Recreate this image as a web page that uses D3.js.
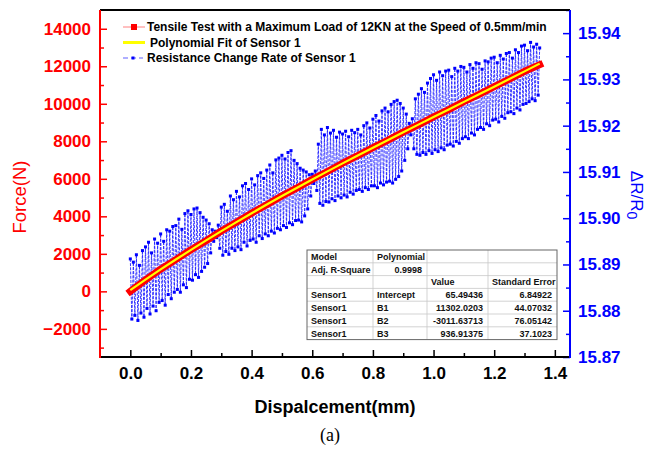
<!DOCTYPE html>
<html>
<head>
<meta charset="utf-8">
<script src="https://d3js.org/d3.v7.min.js"></script>
<style>
  body { margin: 0; background: #fff; }
  text { font-family: Arial, "Liberation Sans", sans-serif; }
</style>
</head>
<body>
<script>
// displacement step of the force / fit samples (mm)
var forceStep = 0.05
var forceN = [0, 610, 1180, 1690, 2220, 2700, 3220, 3680, 4170, 4620, 5090, 5520, 5970, 6390, 6830,
  7240, 7660, 8060, 8490, 8880, 9300, 9690, 10110, 10500, 10920, 11310, 11730, 12080]
var fitN = [65, 623, 1167, 1696, 2213, 2717, 3210, 3692, 4164, 4627, 5081, 5526, 5965, 6397, 6823,
  7243, 7659, 8072, 8481, 8888, 9293, 9697, 10101, 10505, 10910, 11317, 11727, 12140]

// resistance change rate, sampled every resStep mm
var resStep = 0.005
var resistance = [
  15.8912, 15.8782, 15.8905, 15.8790, 15.8921, 15.8779, 15.8898, 15.8795, 15.8930, 15.8786,
  15.8938, 15.8805, 15.8948, 15.8793, 15.8925, 15.8810, 15.8955, 15.8800, 15.8946, 15.8818,
  15.8966, 15.8822, 15.8950, 15.8812, 15.8975, 15.8835, 15.8972, 15.8826, 15.8982, 15.8840,
  15.8984, 15.8846, 15.8998, 15.8840, 15.8976, 15.8856, 15.9010, 15.8850, 15.9016, 15.8868,
  15.9008, 15.8866, 15.9020, 15.8878, 15.9022, 15.8872, 15.9012, 15.8885, 15.9002, 15.8894,
  15.8996, 15.8902, 15.8988, 15.8925, 15.8975, 15.8950, 15.8972, 15.8958, 15.8985, 15.8935,
  15.9024, 15.8920, 15.9030, 15.8928, 15.9015, 15.8922, 15.9048, 15.8935, 15.9040, 15.8930,
  15.9058, 15.8938, 15.9046, 15.8932, 15.9070, 15.8948, 15.9075, 15.8940, 15.9062, 15.8952,
  15.9085, 15.8955, 15.9072, 15.8948, 15.9092, 15.8962, 15.9098, 15.8956, 15.9086, 15.8966,
  15.9104, 15.8962, 15.9115, 15.8972, 15.9098, 15.8968, 15.9126, 15.8978, 15.9130, 15.8975,
  15.9136, 15.8984, 15.9128, 15.8980, 15.9142, 15.8990, 15.9146, 15.8986, 15.9125, 15.8995,
  15.9118, 15.8996, 15.9108, 15.8992, 15.9104, 15.9005, 15.9100, 15.9020, 15.9094, 15.9048,
  15.9095, 15.9075, 15.9102, 15.9060, 15.9160, 15.9032, 15.9192, 15.9028, 15.9180, 15.9036,
  15.9196, 15.9035, 15.9184, 15.9042, 15.9190, 15.9038, 15.9175, 15.9048, 15.9186, 15.9044,
  15.9182, 15.9050, 15.9188, 15.9046, 15.9176, 15.9056, 15.9190, 15.9052, 15.9185, 15.9060,
  15.9192, 15.9062, 15.9180, 15.9058, 15.9200, 15.9066, 15.9206, 15.9062, 15.9195, 15.9070,
  15.9214, 15.9070, 15.9222, 15.9066, 15.9210, 15.9076, 15.9232, 15.9072, 15.9238, 15.9078,
  15.9230, 15.9080, 15.9246, 15.9076, 15.9252, 15.9084, 15.9255, 15.9090, 15.9248, 15.9102,
  15.9238, 15.9125, 15.9225, 15.9150, 15.9205, 15.9180, 15.9215, 15.9150, 15.9258, 15.9138,
  15.9268, 15.9136, 15.9280, 15.9142, 15.9272, 15.9138, 15.9292, 15.9146, 15.9302, 15.9140,
  15.9310, 15.9148, 15.9298, 15.9144, 15.9316, 15.9152, 15.9308, 15.9148, 15.9318, 15.9158,
  15.9320, 15.9160, 15.9306, 15.9156, 15.9324, 15.9166, 15.9318, 15.9162, 15.9328, 15.9172,
  15.9326, 15.9176, 15.9316, 15.9172, 15.9332, 15.9184, 15.9324, 15.9180, 15.9336, 15.9192,
  15.9334, 15.9196, 15.9322, 15.9192, 15.9340, 15.9204, 15.9338, 15.9200, 15.9346, 15.9212,
  15.9348, 15.9214, 15.9336, 15.9208, 15.9352, 15.9220, 15.9344, 15.9216, 15.9356, 15.9228,
  15.9358, 15.9230, 15.9346, 15.9226, 15.9364, 15.9238, 15.9358, 15.9234, 15.9372, 15.9246,
  15.9374, 15.9248, 15.9362, 15.9252, 15.9380, 15.9258, 15.9370, 15.9254, 15.9376, 15.9266,
  15.9368]

var xTicks = [0, 0.2, 0.4, 0.6, 0.8, 1.0, 1.2, 1.4]
var forceTicks = [-2000, 0, 2000, 4000, 6000, 8000, 10000, 12000, 14000]
var resTicks = [15.87, 15.88, 15.89, 15.90, 15.91, 15.92, 15.93, 15.94]

var legendLabels = ["Tensile Test with a Maximum Load of 12KN at the Speed of 0.5mm/min",
  "Polynomial Fit of Sensor 1", "Resistance Change Rate of Sensor 1"]

var tableRows = [
  ["Model", "Polynomial", "", ""],
  ["Adj. R-Square", "0.9998", "", ""],
  ["", "", "Value", "Standard Error"],
  ["Sensor1", "Intercept", "65.49436", "6.84922"],
  ["Sensor1", "B1", "11302.0203", "44.07032"],
  ["Sensor1", "B2", "-3011.63713", "76.05142"],
  ["Sensor1", "B3", "936.91375", "37.1023"]
]

var L = 100, R = 570, T = 10, B = 357
var x = d3.scaleLinear().domain([-0.1, 1.45]).range([L, R])
var yF = d3.scaleLinear().domain([-3500, 15000]).range([B, T])
var yR = d3.scaleLinear().domain([15.87, 15.945]).range([B, T])

var svg = d3.select("body").append("svg").attr("width", 654).attr("height", 449)

// blue resistance series
var resData = resistance.map((v, i) => ({ d: i * resStep, v }))
svg.append("path").datum(resData)
  .attr("d", d3.line().x(d => x(d.d)).y(d => yR(d.v)))
  .attr("fill", "none").attr("stroke", "#2424ff").attr("stroke-width", 0.9)
  .attr("stroke-dasharray", "3,1.2")
svg.selectAll("rect.rdot").data(resData).enter().append("rect")
  .attr("class", "rdot")
  .attr("x", d => x(d.d) - 1.5).attr("y", d => yR(d.v) - 1.5)
  .attr("width", 3).attr("height", 3).attr("fill", "#0000ff")

// force data (red band) and polynomial fit (yellow)
var forceData = forceN.map((v, i) => ({ d: i * forceStep, v }))
var fitData = fitN.map((v, i) => ({ d: i * forceStep, v }))
var lineF = d3.line().x(d => x(d.d)).y(d => yF(d.v))
svg.append("path").datum(forceData).attr("d", lineF)
  .attr("fill", "none").attr("stroke", "#ff0000").attr("stroke-width", 7)
  .attr("stroke-linecap", "square").attr("stroke-linejoin", "round")
svg.append("path").datum(fitData).attr("d", lineF)
  .attr("fill", "none").attr("stroke", "#ffff00").attr("stroke-width", 2.2)

// axes
function styleAxis(g, color) {
  g.select(".domain").remove()
  g.selectAll("line").attr("stroke", color).attr("stroke-width", 1.5)
  g.selectAll("text").attr("fill", color).attr("font-size", 17).attr("font-weight", "bold")
    .attr("font-family", "Arial, 'Liberation Sans', sans-serif")
}

var gx = svg.append("g").attr("transform", `translate(0,${B})`)
  .call(d3.axisBottom(x).tickValues(xTicks).tickSize(-7).tickPadding(10).tickFormat(d3.format(".1f")))
styleAxis(gx, "#000")
var gxm = svg.append("g").attr("transform", `translate(0,${B})`)
  .call(d3.axisBottom(x).tickValues(d3.range(0.1, 1.4, 0.2)).tickSize(-4).tickFormat(""))
styleAxis(gxm, "#000")

var gl = svg.append("g").attr("transform", `translate(${L},0)`)
  .call(d3.axisLeft(yF).tickValues(forceTicks).tickSize(-7).tickPadding(9).tickFormat(d3.format("d")))
styleAxis(gl, "#ff0000")
var glm = svg.append("g").attr("transform", `translate(${L},0)`)
  .call(d3.axisLeft(yF).tickValues(d3.range(-3000, 14001, 2000)).tickSize(-4).tickFormat(""))
styleAxis(glm, "#ff0000")

var gr = svg.append("g").attr("transform", `translate(${R},0)`)
  .call(d3.axisRight(yR).tickValues(resTicks).tickSize(-7).tickPadding(8).tickFormat(d3.format(".2f")))
styleAxis(gr, "#0000ff")
var grm = svg.append("g").attr("transform", `translate(${R},0)`)
  .call(d3.axisRight(yR).tickValues(resTicks.map(v => v + 0.005)).tickSize(-4).tickFormat(""))
styleAxis(grm, "#0000ff")

// frame
svg.append("line").attr("x1", L).attr("x2", R).attr("y1", T).attr("y2", T).attr("stroke", "#000").attr("stroke-width", 2)
svg.append("line").attr("x1", L).attr("x2", R).attr("y1", B).attr("y2", B).attr("stroke", "#000").attr("stroke-width", 2)
svg.append("line").attr("x1", L).attr("x2", L).attr("y1", T).attr("y2", B + 1).attr("stroke", "#ff0000").attr("stroke-width", 2)
svg.append("line").attr("x1", R).attr("x2", R).attr("y1", T).attr("y2", B + 1).attr("stroke", "#0000ff").attr("stroke-width", 2)

// axis titles
svg.append("text").attr("transform", "translate(26,197) rotate(-90)")
  .attr("text-anchor", "middle").attr("fill", "#ff0000").attr("font-size", 18.5).text("Force(N)")
var rt = svg.append("text").attr("transform", "translate(631,195) rotate(90)")
  .attr("text-anchor", "middle").attr("fill", "#0000ff").attr("font-size", 17)
rt.append("tspan").text("\u0394R/R")
rt.append("tspan").attr("dy", 4).attr("font-size", 14).text("0")
svg.append("text").attr("x", 335).attr("y", 413).attr("text-anchor", "middle")
  .attr("font-size", 18).attr("font-weight", "bold").text("Dispalcement(mm)")
svg.append("text").attr("x", 330).attr("y", 441).attr("text-anchor", "middle")
  .attr("font-size", 18).style("font-family", "'Liberation Serif', 'Times New Roman', serif").text("(a)")

// legend
var lg = svg.append("g")
lg.append("line").attr("x1", 123).attr("x2", 145).attr("y1", 27).attr("y2", 27).attr("stroke", "#ff8080").attr("stroke-width", 1)
lg.append("rect").attr("x", 131).attr("y", 24).attr("width", 6).attr("height", 6).attr("fill", "#ff0000")
lg.append("line").attr("x1", 123).attr("x2", 145).attr("y1", 42.5).attr("y2", 42.5).attr("stroke", "#ffff00").attr("stroke-width", 3)
lg.append("line").attr("x1", 123).attr("x2", 143).attr("y1", 58).attr("y2", 58).attr("stroke", "#6060ff").attr("stroke-width", 1.2).attr("stroke-dasharray", "5,3")
lg.append("rect").attr("x", 131.5).attr("y", 56.5).attr("width", 3).attr("height", 3).attr("fill", "#0000ff")
lg.selectAll("text").data(legendLabels).enter().append("text")
  .attr("x", (d, i) => i == 1 ? 150 : 147).attr("y", (d, i) => 31 + i * 15.7)
  .attr("font-size", 12).attr("font-weight", "bold").text(d => d)

// fit table
var colX = [307, 373, 427, 488, 557]
var tTop = 250, rowH = 12.8
var tb = svg.append("g")
tb.append("rect").attr("x", colX[0]).attr("y", tTop).attr("width", colX[4] - colX[0])
  .attr("height", rowH * tableRows.length).attr("fill", "#fff")
for (var r = 1; r < tableRows.length; r++) {
  tb.append("line").attr("x1", colX[0]).attr("x2", colX[4]).attr("y1", tTop + r * rowH).attr("y2", tTop + r * rowH)
    .attr("stroke", "#c8c8c8").attr("stroke-width", 0.8)
}
for (var c = 1; c < 4; c++) {
  tb.append("line").attr("x1", colX[c]).attr("x2", colX[c]).attr("y1", tTop).attr("y2", tTop + rowH * tableRows.length)
    .attr("stroke", "#c8c8c8").attr("stroke-width", 0.8)
}
tb.append("rect").attr("x", colX[0]).attr("y", tTop).attr("width", colX[4] - colX[0])
  .attr("height", rowH * tableRows.length).attr("fill", "none").attr("stroke", "#666").attr("stroke-width", 1)
tableRows.forEach((row, r) => {
  row.forEach((cell, c) => {
    if (!cell) return
    var isNum = !isNaN(+cell)
    tb.append("text")
      .attr("x", isNum ? colX[c + 1] - 5 : colX[c] + 4)
      .attr("y", tTop + r * rowH + rowH / 2 + 3.3)
      .attr("text-anchor", isNum ? "end" : "start")
      .attr("font-size", 9).attr("font-weight", "bold").attr("fill", "#111")
      .text(cell)
  })
})
</script>
</body>
</html>
